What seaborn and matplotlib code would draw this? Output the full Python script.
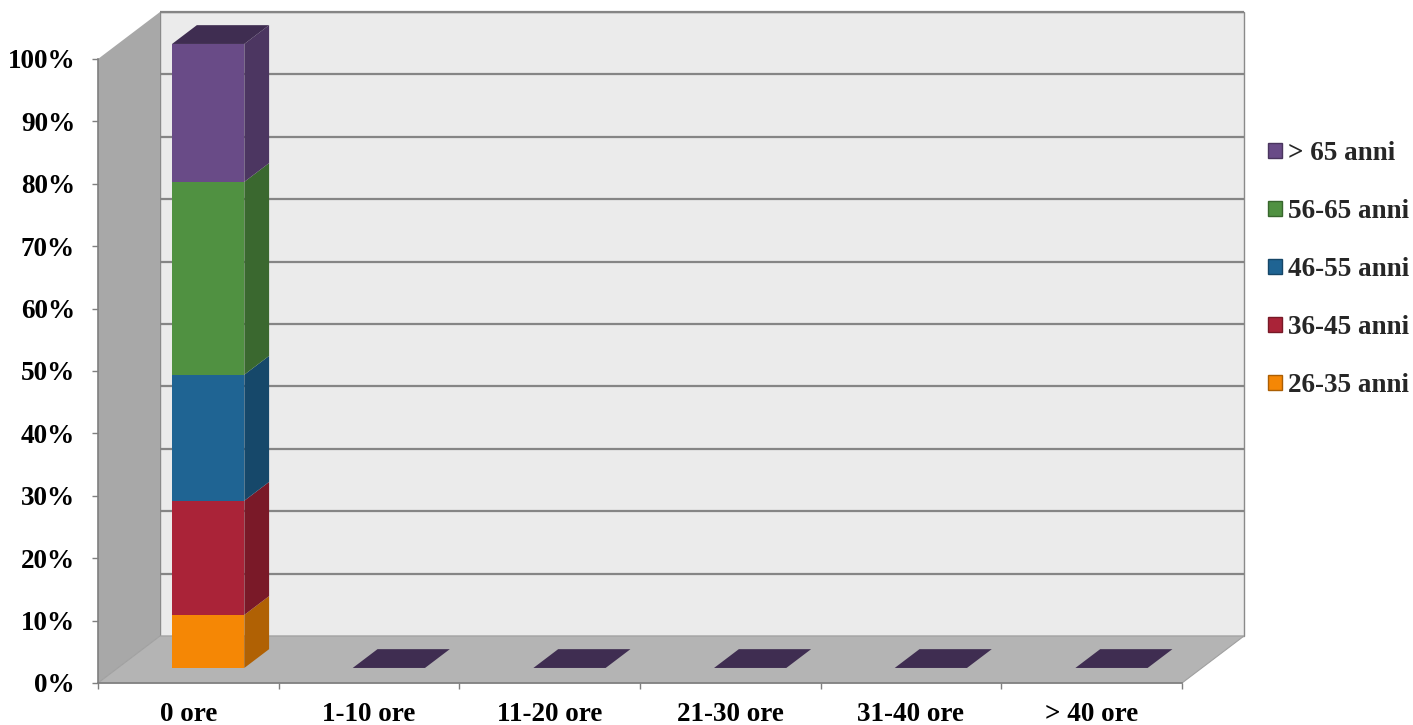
import numpy as np
import pandas as pd
import matplotlib
matplotlib.use("Agg")
import matplotlib.pyplot as plt
import seaborn as sns
from matplotlib.patches import Polygon, Patch
from matplotlib.colors import to_rgb

# ---------------- data ----------------
categories = ["0 ore", "1-10 ore", "11-20 ore", "21-30 ore", "31-40 ore", "> 40 ore"]
series_names = ["26-35 anni", "36-45 anni", "46-55 anni", "56-65 anni", "> 65 anni"]
v_26_35 = [8.5, 0, 0, 0, 0, 0]
v_36_45 = [18.3, 0, 0, 0, 0, 0]
v_46_55 = [20.2, 0, 0, 0, 0, 0]
v_56_65 = [30.9, 0, 0, 0, 0, 0]
v_over65 = [22.1, 0, 0, 0, 0, 0]
series_values = [v_26_35, v_36_45, v_46_55, v_56_65, v_over65]
series_colors = ["#f58705", "#aa2338", "#1f6493", "#509141", "#694b87"]
y_ticks = [0, 10, 20, 30, 40, 50, 60, 70, 80, 90, 100]
y_tick_labels = [f"{t}%" for t in y_ticks]

# ---------------- style ----------------
sns.set_theme(style="white")
plt.rcParams['font.family'] = ['Liberation Serif', 'DejaVu Serif']
plt.rcParams['font.weight'] = 'bold'
FS = 19.5

W, H = 1413, 725
fig = plt.figure(figsize=(W / 100, H / 100), dpi=100)
fig.patch.set_facecolor("white")

# pixel geometry of the pseudo-3D box
x0_px, y0_px = 98, 683
cat_px = 1084 / 6
pct_px = 6.24
ddx_px, ddy_px = 62, 47
ax_w_px = 1245 - x0_px
ax_h_px = y0_px - 12
ax = fig.add_axes([x0_px / W, (H - y0_px) / H, ax_w_px / W, ax_h_px / H])

DX = ddx_px / cat_px      # depth offset in category units
DY = ddy_px / pct_px      # depth offset in percent units
d0, dd = 0.32, 0.40       # bar depth start / depth extent (fractions)
bar_w = 0.40
n = len(categories)

# ---------------- walls ----------------
side = Polygon([(-0.5, 0), (-0.5, 100), (-0.5 + DX, 100 + DY), (-0.5 + DX, DY)],
               closed=True, facecolor="#a8a8a8", edgecolor="none", zorder=0.5, clip_on=False)
floor = Polygon([(-0.5, 0), (n - 0.5, 0), (n - 0.5 + DX, DY), (-0.5 + DX, DY)],
                closed=True, facecolor="#b4b4b4", edgecolor="#a0a0a0", lw=0.8, zorder=0.5, clip_on=False)
back = Polygon([(-0.5 + DX, DY), (n - 0.5 + DX, DY), (n - 0.5 + DX, 100 + DY), (-0.5 + DX, 100 + DY)],
               closed=True, facecolor="#ebebeb", edgecolor="#8a8a8a", lw=1.0, zorder=0.4, clip_on=False)
for p in (back, side, floor):
    ax.add_patch(p)
for t in y_ticks[1:]:
    ax.plot([-0.5 + DX, n - 0.5 + DX], [t + DY, t + DY], color="#858585", lw=1.6,
            zorder=0.6, solid_capstyle="butt", clip_on=False)

# ---------------- bars (seaborn) ----------------
bottoms = np.zeros(n)
for name, vals, col in zip(series_names, series_values, series_colors):
    df = pd.DataFrame({"cat": categories, "val": vals})
    before = len(ax.patches)
    sns.barplot(data=df, x="cat", y="val", order=categories, color=col, saturation=1,
                width=bar_w, errorbar=None, bottom=bottoms.copy(), linewidth=0,
                ax=ax, zorder=3)
    new_patches = ax.patches[before:]
    dark = tuple(c * 0.72 for c in to_rgb(col))
    for p, b, v in zip(new_patches, bottoms, vals):
        p.set_x(p.get_x() + d0 * DX)
        p.set_y(p.get_y() + d0 * DY)
        if v > 0:
            xr = p.get_x() + p.get_width()
            yb = p.get_y()
            yt = yb + p.get_height()
            ax.add_patch(Polygon([(xr, yb), (xr + dd * DX, yb + dd * DY),
                                  (xr + dd * DX, yt + dd * DY), (xr, yt)],
                                 closed=True, facecolor=dark, edgecolor="none", zorder=2.9))
    bottoms = bottoms + np.array(vals)

# top faces
top_col = tuple(c * 0.6 for c in to_rgb(series_colors[-1]))
for i, tot in enumerate(bottoms):
    xl = i - bar_w / 2 + d0 * DX
    yb = tot + d0 * DY
    ax.add_patch(Polygon([(xl, yb), (xl + bar_w, yb), (xl + bar_w + dd * DX, yb + dd * DY),
                          (xl + dd * DX, yb + dd * DY)], closed=True,
                         facecolor=top_col, edgecolor="none", zorder=3.1))

# ---------------- axes ----------------
ax.set_xlim(-0.5, -0.5 + ax_w_px / cat_px)
ax.set_ylim(0, ax_h_px / pct_px)
ax.set_xlabel("")
ax.set_ylabel("")
ax.grid(False)
ax.set_facecolor("none")
for s in ("top", "right"):
    ax.spines[s].set_visible(False)
for s in ("left", "bottom"):
    ax.spines[s].set_color("#7f7f7f")
    ax.spines[s].set_linewidth(1.2)
    ax.spines[s].set_visible(True)
ax.spines["left"].set_bounds(0, 100)
ax.spines["bottom"].set_bounds(-0.5, n - 0.5)

ax.set_yticks(y_ticks)
ax.set_yticklabels(y_tick_labels, fontsize=FS, fontweight="bold")
ax.tick_params(axis="y", direction="out", length=4.5, width=1, color="#7f7f7f",
               pad=12, left=True, labelcolor="black")

ax.set_xticks(np.arange(-0.5, n, 1.0))
ax.set_xticklabels([""] * (n + 1))
ax.set_xticks(np.arange(n), minor=True)
ax.set_xticklabels(categories, minor=True, fontsize=FS, fontweight="bold")
ax.tick_params(axis="x", which="major", direction="out", length=4.5, width=1,
               color="#7f7f7f", bottom=True)
ax.tick_params(axis="x", which="minor", length=0, pad=14, labelcolor="black")

# ---------------- legend ----------------
handles = [Patch(facecolor=c, edgecolor=tuple(x * 0.7 for x in to_rgb(c)), lw=1.0, label=nm)
           for nm, c in zip(series_names, series_colors)][::-1]
fig.legend(handles=handles, loc="center left", bbox_to_anchor=(1268 / W, 1 - 269.5 / H),
           frameon=False, prop={"weight": "bold", "size": FS},
           handlelength=0.5, handleheight=0.5, handletextpad=0.25,
           labelspacing=1.22, borderpad=0, borderaxespad=0)

fig.savefig("out.png", dpi=100, facecolor="white")
